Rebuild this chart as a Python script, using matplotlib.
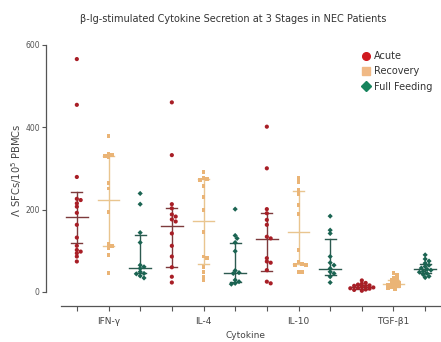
import numpy as np
import matplotlib
matplotlib.use("Agg")
import matplotlib.pyplot as plt
from matplotlib.lines import Line2D

plt.rcParams['font.family'] = ['DejaVu Sans']

cytokines = ["IFN-γ", "IL-4", "IL-10", "TGF-β1"]
stages = ["Acute", "Recovery", "Full Feeding"]

# values per group (cytokine x stage)
ifn_acute = [565, 454, 279, 226, 223, 215, 207, 192, 163, 132, 112, 102, 98, 94, 86, 74]
ifn_recovery = [379, 336, 332, 330, 328, 265, 251, 193, 116, 112, 106, 90, 45]
ifn_full = [239, 213, 144, 120, 65, 61, 57, 49, 45, 44, 39, 34]
il4_acute = [460, 332, 213, 203, 188, 183, 176, 171, 142, 112, 86, 60, 37, 23]
il4_recovery = [290, 277, 274, 272, 257, 231, 199, 146, 86, 82, 61, 49, 37, 29]
il4_full = [201, 137, 130, 120, 99, 52, 47, 45, 29, 25, 21, 19]
il10_acute = [401, 300, 201, 191, 175, 163, 134, 130, 82, 74, 71, 53, 25, 21]
il10_recovery = [277, 267, 247, 237, 211, 189, 101, 72, 68, 66, 65, 49, 48]
il10_full = [184, 150, 142, 86, 71, 65, 57, 49, 45, 37, 23]
tgf_acute = [28, 22, 20, 18, 16, 15, 14, 12, 11, 10, 9, 8, 6, 5, 3]
tgf_recovery = [45, 42, 35, 32, 28, 25, 22, 20, 18, 16, 14, 12, 10, 8]
tgf_full = [90, 80, 75, 70, 65, 62, 58, 55, 53, 50, 48, 45, 42, 38, 35]

# center line and whisker ends per group, same order
centers = [181, 223, 59, 161, 173, 45, 129, 145, 56, 12, 20, 55]
lows = [120, 112, 45, 60, 68, 25, 52, 68, 40, 7, 12, 45]
highs = [242, 330, 138, 204, 274, 120, 191, 245, 128, 18, 30, 68]

groups = [ifn_acute, ifn_recovery, ifn_full,
          il4_acute, il4_recovery, il4_full,
          il10_acute, il10_recovery, il10_full,
          tgf_acute, tgf_recovery, tgf_full]

pt_colors = ["#a81e26", "#eab476", "#1b6452"]
bar_colors = ["#7d3a3c", "#e9c58f", "#2d5a50"]
leg_colors = ["#d0191f", "#f0b985", "#17845d"]
markers = ["o", "s", "D"]
msizes = [9, 8, 7]

W, H, DPI = 441, 342, 100
fig = plt.figure(figsize=(W / DPI, H / DPI), dpi=DPI)
ax_left, ax_right = 61, 441
ax_bot, ax_top = 306, 36.4
ax = fig.add_axes([ax_left / W, 1 - ax_bot / H, (ax_right - ax_left) / W, (ax_bot - ax_top) / H])
ax.set_xlim(-0.5, 11.5)
ymin, ymax = -34, 620
ax.set_ylim(ymin, ymax)

px_per_x = (ax_right - ax_left) / 12.0
px_per_y = (ax_bot - ax_top) / (ymax - ymin)


def swarm(vals, diam=3.2):
    order = np.argsort(vals)[::-1]
    placed = []
    offs = np.zeros(len(vals))
    cands = [0.0]
    for j in range(1, 20):
        cands += [j * diam * 0.6, -j * diam * 0.6]
    for i in order:
        y = vals[i] * px_per_y
        for c in cands:
            ok = True
            for (px, py) in placed:
                if (px - c) ** 2 + (py - y) ** 2 < diam ** 2:
                    ok = False
                    break
            if ok:
                offs[i] = c
                placed.append((c, y))
                break
    return offs / px_per_x


for gi, vals in enumerate(groups):
    s = gi % 3
    vals = np.array(vals, dtype=float)
    xo = swarm(vals)
    c = bar_colors[s]
    ax.plot([gi, gi], [lows[gi], highs[gi]], color=c, lw=1.0, zorder=2)
    for yv in (lows[gi], highs[gi]):
        ax.plot([gi - 0.17, gi + 0.17], [yv, yv], color=c, lw=1.0, zorder=2)
    ax.plot([gi - 0.34, gi + 0.34], [centers[gi], centers[gi]], color=c, lw=1.0, zorder=2)
    ax.scatter(gi + xo, vals, s=msizes[s], marker=markers[s], color=pt_colors[s],
               edgecolors='none', zorder=3)

# axes styling
for sp in ["top", "right"]:
    ax.spines[sp].set_visible(False)
ax.spines['left'].set_position(('axes', -15 / (ax_right - ax_left)))
ax.spines['left'].set_bounds(0, 600)
ax.spines['left'].set_color("#555555")
ax.spines['bottom'].set_color("#555555")
ax.spines['left'].set_linewidth(0.9)
ax.spines['bottom'].set_linewidth(0.9)
ax.set_yticks([0, 200, 400, 600])
ax.set_yticklabels(["0", "200", "400", "600"])
ax.tick_params(axis='y', length=3, width=0.8, colors="#555555", labelsize=5.5, pad=1.5)
ax.set_xticks(range(12))
ax.set_xticklabels([""] * 12)
ax.tick_params(axis='x', which='major', length=3.5, width=0.8, colors="#555555")

xform = ax.get_xaxis_transform()
for pos, lab in zip([1, 4, 7, 10], cytokines):
    ax.text(pos, -15 / (ax_bot - ax_top), lab, transform=xform, ha='center', va='center',
            fontsize=6.5, color="#444444")

fig.text(245 / W, 1 - 336 / H, "Cytokine", ha='center', va='center', fontsize=6.5, color="#444444")
fig.text(17 / W, 1 - 170 / H, "Λ SFCs/10$^5$ PBMCs", rotation=90, ha='center', va='center',
         fontsize=7.2, color="#444444")

fig.text(233 / W, 1 - 19 / H, "β-Ig-stimulated Cytokine Secretion at 3 Stages in NEC Patients",
         ha='center', va='center', fontsize=7, color="#333333")

handles = [Line2D([], [], marker=m, color=c, linestyle='none', markersize=ms)
           for m, c, ms in zip(["o", "s", "D"], leg_colors, [5.5, 5.5, 5])]
leg = fig.legend(handles, stages, loc='upper left', bbox_to_anchor=(362 / W, 1 - 51 / H),
                 frameon=False, fontsize=7, handlelength=0.8, handletextpad=0.4,
                 labelspacing=0.55, borderaxespad=0, borderpad=0)
for t in leg.get_texts():
    t.set_color("#333333")

fig.savefig("out.png", dpi=DPI)
